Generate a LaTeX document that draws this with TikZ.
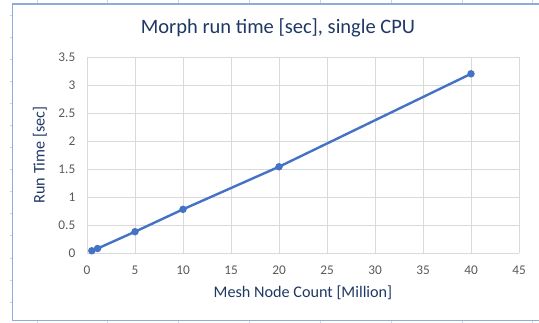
\documentclass[tikz,border=0pt]{standalone}
\usepackage{fontspec}
\setmainfont{Carlito}
\usetikzlibrary{positioning}
\definecolor{seriesColor}{HTML}{4472C4}
\definecolor{gridColor}{HTML}{D9D9D9}
\definecolor{labelColor}{HTML}{595959}
\definecolor{titleColor}{HTML}{1F3864}
\definecolor{frameColor}{HTML}{8FAADC}
\definecolor{cellColor}{HTML}{D4D4D4}

\begin{document}
\begin{tikzpicture}[x=1pt,y=1pt]

          \tikzstyle{gridLine} = [gridColor,line width=0.8pt];
          \tikzstyle{tickLabel} = [labelColor,inner sep=0pt,font=\fontsize{13.3}{14}\selectfont];
          \tikzstyle{axisTitle} = [titleColor,inner sep=0pt,font=\fontsize{16.2}{18}\selectfont];
          \tikzstyle{seriesLine} = [seriesColor,line width=2.4pt,line join=round];
          \tikzstyle{dataPoint} = [circle,fill=seriesColor,inner sep=0pt,minimum size=7.5pt];

          \useasboundingbox (0,0) rectangle (539,323);

          % sheet cells behind the chart
          \foreach \cx in {37,107,178,249,320,391,462,532}
            \draw[cellColor] (\cx,319) -- (\cx,323) (\cx,0) -- (\cx,2.3);
          \foreach \k in {0,...,13}
            \draw[cellColor] (9.5,308-22.07*\k) -- (12.7,308-22.07*\k);

          % chart frame
          \draw[frameColor,line width=1.3pt] (539,319) -- (12.7,319) -- (12.7,2.3) -- (539,2.3);

          \node[titleColor,inner sep=0pt,font=\fontsize{20.5}{22}\selectfont] (title) at (278,295) {Morph run time [sec], single CPU};

          \begin{scope}[shift={(87,70)},x=9.6pt,y=56pt]
            \foreach \gx in {0,5,...,45} {
              \draw[gridLine] (\gx,0) -- (\gx,3.5);
              \node[tickLabel] (xl\gx) at (\gx,-0.3) {\gx};
            }
            \foreach \gy in {0,0.5,1,1.5,2,2.5,3,3.5} {
              \draw[gridLine] (0,\gy) -- (45,\gy);
              \node[tickLabel,anchor=east] (yl\gy) at (-1.2,\gy) {\gy};
            }

            \node[axisTitle,anchor=base] (xtitle) at (22.5,-0.8) {Mesh Node Count [Million]};
            \node[axisTitle,rotate=90] (ytitle) at (-4.9,1.75) {Run Time [sec]};

            \coordinate (p1) at (0.5,0.04);
            \coordinate (p2) at (1.1,0.08);
            \coordinate (p3) at (5,0.38);
            \coordinate (p4) at (10,0.78);
            \coordinate (p5) at (20,1.54);
            \coordinate (p6) at (40,3.2);

            \draw[seriesLine] (p1) -- (p2) -- (p3) -- (p4) -- (p5) -- (p6);
            \foreach \p in {p1,p2,p3,p4,p5,p6}
              \node[dataPoint] (m\p) at (\p) {};
          \end{scope}
        \end{tikzpicture}
\end{document}
